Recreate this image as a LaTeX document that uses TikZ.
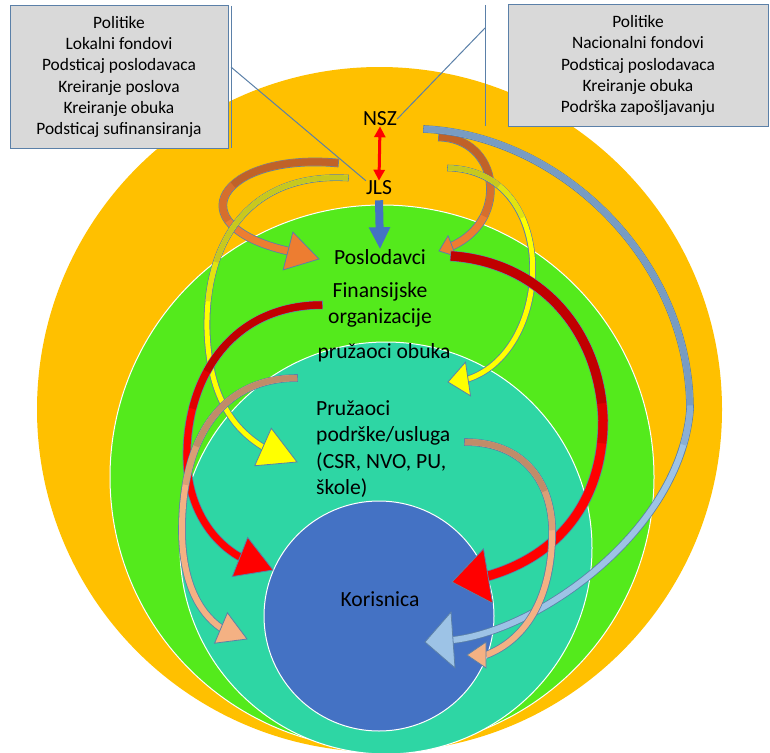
\documentclass[tikz,border=0pt]{standalone}
\usepackage{fontspec}
\setmainfont{Carlito}
\usetikzlibrary{calc,arrows.meta}

\definecolor{ring1}{RGB}{255,192,0}
\definecolor{ring2}{RGB}{84,234,28}
\definecolor{ring3}{RGB}{46,214,164}
\definecolor{core}{RGB}{68,114,196}
\definecolor{rim}{RGB}{91,128,168}
\definecolor{boxgrey}{RGB}{217,217,217}
\definecolor{orDark}{RGB}{192,98,40}
\definecolor{orLight}{RGB}{237,125,49}
\definecolor{yeDark}{RGB}{200,200,30}
\definecolor{yeLight}{RGB}{255,255,0}
\definecolor{rdDark}{RGB}{192,0,0}
\definecolor{rdLight}{RGB}{255,0,0}
\definecolor{tnDark}{RGB}{192,140,105}
\definecolor{tnLight}{RGB}{244,177,131}
\definecolor{blDark}{RGB}{120,156,194}
\definecolor{blLight}{RGB}{157,195,230}

% #1 back colour, #2 front colour, #3 band width, #4 back length, #5 half head, #6 path, #7 head base, #8 tip
\newcommand\bandarrow[8]{%
  \pgfmathsetmacro\midlen{#4+40}%
  \draw[rim, line width=#3pt+1.6pt, shorten <=-0.8pt] #6;
  \draw[#2, line width=#3pt] #6;
  \draw[#1!50!#2, line width=#3pt, dash pattern=on \midlen pt off 3000pt] #6;
  \draw[#1, line width=#3pt, dash pattern=on #4pt off 3000pt] #6;
  \filldraw[fill=#2, draw=rim, line width=0.8pt, line join=miter] ($(#7)!#5pt!90:(#8)$) -- (#8) -- ($(#7)!#5pt!-90:(#8)$) -- cycle;
}

\begin{document}
\begin{tikzpicture}[x=1pt, y=-1pt,
  lbl/.style={font=\fontsize{21.6pt}{26.3pt}\selectfont, inner sep=0pt},
  note/.style={draw=rim, fill=boxgrey, line width=1pt, align=center, inner sep=0pt,
    font=\fontsize{17.4pt}{21.2pt}\selectfont},
  calloutline/.style={rim, line width=1pt},
  ring/.style={draw=white, line width=1pt}]
			%%%%% START %%%%%
			\useasboundingbox (0,0) rectangle (770,752);
			
			\fill[ring1] (379.5,409.5) circle (342.5pt);
			\draw[ring, fill=ring2] (382,477) circle (272pt);
			\draw[ring, fill=ring3] (386,548) circle (206pt);
			\draw[ring, fill=core] (379,616) circle (115pt);
			
			\node[note, minimum width=218pt, minimum height=142pt] (lbox) at (119,77)
			  {Politike\\Lokalni fondovi\\Podsticaj poslodavaca\\Kreiranje poslova\\Kreiranje obuka\\Podsticaj sufinansiranja};
			\node[note, minimum width=260pt, minimum height=121pt] (rbox) at (638,65.5)
			  {Politike\\Nacionalni fondovi\\Podsticaj poslodavaca\\Kreiranje obuka\\Podrška zapošljavanju};
			
			\node[lbl] (nsz) at (380,119) {NSZ};
			\node[lbl] (jls) at (379,188) {JLS};
			\node[lbl] (poslo) at (380,257) {Poslodavci};
			\node[lbl, align=center] (finorg) at (380,305) {Finansijske\\organizacije};
			\node[lbl] (obuka) at (384,353) {pružaoci obuka};
			\node[lbl, align=left, anchor=west] (usluge) at (316,449) {Pružaoci\\podrške/usluga\\(CSR, NVO, PU,\\škole)};
			\node[lbl] (korisnica) at (380,599) {Korisnica};
			
			\coordinate (lbarT) at (231,6);
			\coordinate (lbarB) at (231,148);
			\coordinate (rbarT) at (485,5);
			\coordinate (rbarB) at (485,126);
			\draw[calloutline] (lbarT) -- (lbarB);
			\draw[calloutline] ($(lbarT)!0.43!(lbarB)$) -- (jls.north west);
			\draw[calloutline] (rbarT) -- (rbarB);
			\draw[calloutline] ($(rbarT)!0.19!(rbarB)$) -- (nsz.east);
			
			\draw[rdLight, line width=3pt, {Triangle[width=11pt,length=11pt]}-{Triangle[width=11pt,length=11pt]}] (nsz.south) -- (jls.north);
			\draw[core, line width=8pt, -{Triangle[width=20pt,length=22pt]}] ([yshift=-5pt]jls.south) -- (poslo.north);
			
			%%%%% CURVED ARROWS %%%%%
			\coordinate (lorS) at (338,163); \coordinate (lorB) at (288,251); \coordinate (lorT) at (319,259);
			\bandarrow{orDark}{orLight}{7}{110}{19.5}{(lorS) .. controls (220,152) and (175,225) .. (lorB)}{lorB}{lorT}
			
			\coordinate (lyeS) at (348,178); \coordinate (lyeB) at (263,447); \coordinate (lyeT) at (297,462);
			\bandarrow{yeDark}{yeLight}{5}{170}{20.5}{(lyeS) .. controls (255,172) and (205,235) .. (207,330) .. controls (209,395) and (232,428) .. (lyeB)}{lyeB}{lyeT}
			
			\coordinate (rorS) at (439,137); \coordinate (rorB) at (452,246); \coordinate (rorT) at (439,251);
			\bandarrow{orDark}{orLight}{7}{70}{11}{(rorS) .. controls (500,138) and (510,220) .. (rorB)}{rorB}{rorT}
			
			\coordinate (ryeS) at (448,168); \coordinate (ryeB) at (468,379); \coordinate (ryeT) at (448,382);
			\bandarrow{yeDark}{yeLight}{5}{55}{17}{(ryeS) .. controls (560,170) and (555,350) .. (ryeB)}{ryeB}{ryeT}
			
			\coordinate (rblS) at (424,129); \coordinate (rblB) at (453,640); \coordinate (rblT) at (425,642);
			\bandarrow{blDark}{blLight}{6}{420}{28}{(rblS) .. controls (560,135) and (690,260) .. (690,410) .. controls (680,530) and (540,630) .. (rblB)}{rblB}{rblT}
			
			\coordinate (rrdS) at (451,256); \coordinate (rrdB) at (488,576); \coordinate (rrdT) at (452,582);
			\bandarrow{rdDark}{rdLight}{9}{230}{27.5}{(rrdS) .. controls (540,262) and (600,330) .. (603,420) .. controls (603,500) and (560,555) .. (rrdB)}{rrdB}{rrdT}
			
			\coordinate (lrdS) at (322,305); \coordinate (lrdB) at (240,557); \coordinate (lrdT) at (273,570);
			\bandarrow{rdDark}{rdLight}{7}{140}{21}{(lrdS) .. controls (230,305) and (185,380) .. (187,460) .. controls (188,505) and (210,540) .. (lrdB)}{lrdB}{lrdT}
			
			\coordinate (ltnS) at (297,378); \coordinate (ltnB) at (221,628); \coordinate (ltnT) at (247,639);
			\bandarrow{tnDark}{tnLight}{6}{130}{16.5}{(ltnS) .. controls (220,378) and (182,440) .. (182,530) .. controls (182,580) and (198,612) .. (ltnB)}{ltnB}{ltnT}
			
			\coordinate (rtnS) at (465,442); \coordinate (rtnB) at (486,655); \coordinate (rtnT) at (467,655);
			\bandarrow{tnDark}{tnLight}{6}{100}{13}{(rtnS) .. controls (530,442) and (555,490) .. (552,540) .. controls (550,600) and (525,640) .. (rtnB)}{rtnB}{rtnT}
			
			%%%%% END %%%%%
\end{tikzpicture}
\end{document}
